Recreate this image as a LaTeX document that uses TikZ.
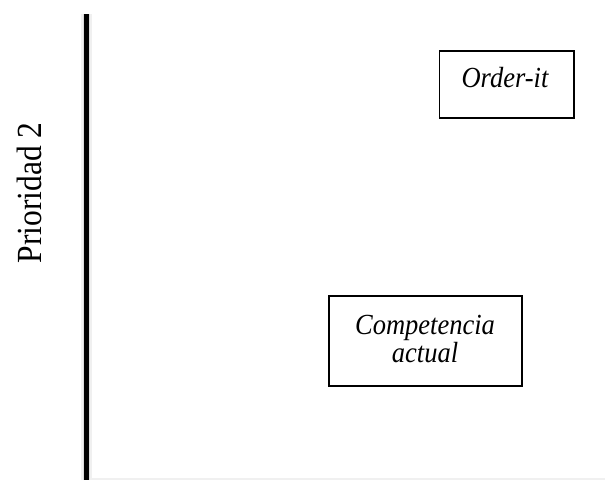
\documentclass[tikz,border=0pt]{standalone}
\usepackage{fontspec}
\setmainfont{Liberation Serif}
\begin{document}
\begin{tikzpicture}[x=1pt,y=-1pt,
  box/.style={draw=black,line width=1.6pt,fill=white},
  lbl/.style={anchor=base,inner sep=0pt,font=\fontsize{26.5}{30}\selectfont\itshape},
  axislabel/.style={anchor=base,inner sep=0pt,rotate=90,font=\fontsize{31.5}{34}\selectfont}]
  \useasboundingbox (0,0) rectangle (605,480);
  % faint base edge
  \draw[black!6,line width=1.5pt] (90,479) -- (605,479);
  % vertical axis with soft halo
  \coordinate (atop) at (86.5,14);
  \coordinate (abot) at (86.5,480);
  \draw[black!6,line width=11pt] (atop) -- (abot);
  \draw[black!14,line width=7.5pt] (atop) -- (abot);
  \draw[black,line width=5pt] (atop) -- (abot);
  \node[axislabel] (prio) at (41.5,193) {\scalebox{1}[1.12]{Prioridad 2}};
  % boxes
  \node[box,minimum width=134.5pt,minimum height=67.5pt,inner sep=0pt] (orderbox) at (506.75,84.5) {};
  \node[lbl] (order) at (505,87) {\scalebox{1}[1.1]{Order-it}};
  \node[box,minimum width=193pt,minimum height=90pt,inner sep=0pt] (compbox) at (425.5,341) {};
  \node[lbl] (comp1) at (425,334) {\scalebox{1}[1.1]{Competencia}};
  \node[lbl] (comp2) at (425,362) {\scalebox{1}[1.1]{actual}};
\end{tikzpicture}
\end{document}
